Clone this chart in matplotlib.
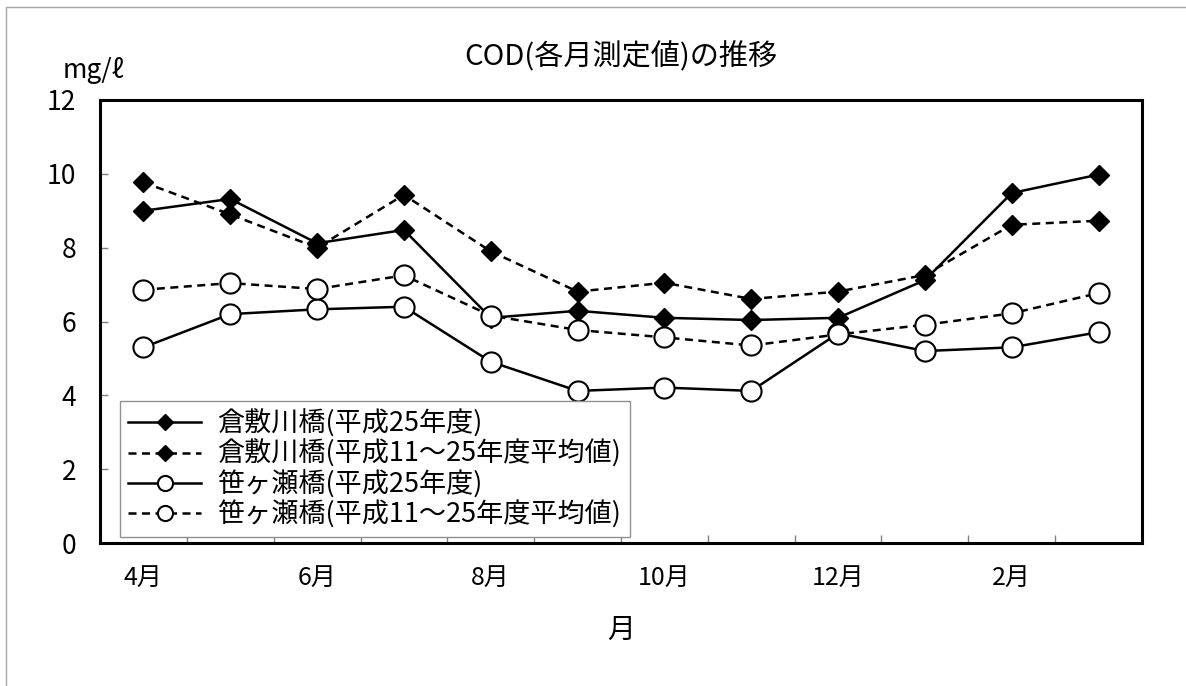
import matplotlib
matplotlib.use("Agg")
import matplotlib.pyplot as plt
from matplotlib.patches import Rectangle
from matplotlib.ticker import FixedLocator

plt.rcParams['font.family'] = ['Noto Sans CJK JP', 'DejaVu Sans']

months = ['4月', '5月', '6月', '7月', '8月', '9月', '10月', '11月', '12月', '1月', '2月', '3月']
kurashiki_h25 = [9.0, 9.32, 8.12, 8.48, 6.1, 6.29, 6.1, 6.04, 6.1, 7.12, 9.48, 9.98]
kurashiki_avg = [9.77, 8.9, 8.0, 9.43, 7.9, 6.81, 7.05, 6.61, 6.81, 7.26, 8.62, 8.73]
sasagase_h25 = [5.3, 6.2, 6.33, 6.4, 4.91, 4.12, 4.21, 4.12, 5.68, 5.2, 5.3, 5.71]
sasagase_avg = [6.86, 7.04, 6.88, 7.25, 6.16, 5.77, 5.57, 5.35, 5.65, 5.91, 6.22, 6.77]
labels = ['倉敷川橋(平成25年度)', '倉敷川橋(平成11～25年度平均値)',
          '笹ヶ瀬橋(平成25年度)', '笹ヶ瀬橋(平成11～25年度平均値)']
yticks = [0, 2, 4, 6, 8, 10, 12]

fig = plt.figure(figsize=(11.86, 6.86), dpi=100)
fig.patches.append(Rectangle((6/1186, -0.1), 1.2, 1 - 7/686 + 0.1, transform=fig.transFigure,
                             fill=False, edgecolor='#a6a6a6', linewidth=1.0))
ax = fig.add_axes([100/1186, 143/686, 1042/1186, 443/686])

x = list(range(len(months)))
dash = (0, (3.2, 2.2))
lw = 1.8
ax.plot(x, kurashiki_h25, color='black', lw=lw, marker='D', ms=10.5, mfc='black', mec='black',
        label=labels[0], zorder=3)
ax.plot(x, kurashiki_avg, color='black', lw=lw, ls=dash, marker='D', ms=10.5, mfc='black', mec='black',
        label=labels[1], zorder=3)
ax.plot(x, sasagase_h25, color='black', lw=lw, marker='o', ms=14.5, mfc='white', mec='black', mew=1.5,
        label=labels[2], zorder=4)
ax.plot(x, sasagase_avg, color='black', lw=lw, ls=dash, marker='o', ms=14.5, mfc='white', mec='black', mew=1.5,
        label=labels[3], zorder=4)

ax.set_xlim(-0.5, len(months) - 0.5)
ax.set_ylim(0, 12)
ax.set_yticks(yticks)
ax.set_yticklabels([str(v) for v in yticks], fontsize=19)
ax.set_xticks(x[::2])
ax.set_xticklabels(months[::2], fontsize=18)
ax.xaxis.set_minor_locator(FixedLocator([i + 0.5 for i in range(len(months) - 1)]))
ax.tick_params(axis='x', which='major', length=0, pad=16)
ax.tick_params(axis='x', which='minor', direction='in', length=6, color='#808080', width=1)
ax.tick_params(axis='y', which='major', direction='in', length=6, color='#808080', width=1, pad=17)
for s in ax.spines.values():
    s.set_linewidth(2.2)
    s.set_color('black')

ax.set_xlabel('月', fontsize=20, labelpad=17)
fig.text(621/1186, 1 - 57/686, 'COD(各月測定値)の推移', ha='center', va='center', fontsize=21)
fig.text(93/1186, 1 - 70/686, 'mg/ℓ', ha='center', va='center', fontsize=19,
         family=['Noto Sans CJK JP', 'DejaVu Sans'])

leg = ax.legend(loc='lower left', bbox_to_anchor=(20/1042, 6/443), fontsize=19.5, frameon=True,
                fancybox=False, edgecolor='#909090', framealpha=1, handlelength=2.7,
                handletextpad=0.6, labelspacing=0.08, borderpad=0.3, borderaxespad=0,
                markerscale=0.75)
leg.get_frame().set_linewidth(1.0)

fig.savefig('out.png', dpi=100)
